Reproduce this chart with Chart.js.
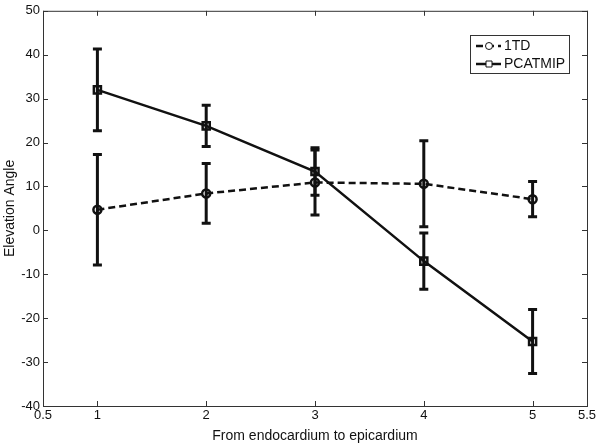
<!DOCTYPE html>
<html>
<head>
<meta charset="utf-8">
<script src="https://cdn.jsdelivr.net/npm/chart.js@4/dist/chart.umd.min.js"></script>
<style>
  body { margin: 0; background: #fff; }
  canvas { display: block; }
</style>
</head>
<body>
<canvas id="chart" width="600" height="445"></canvas>
<script>
// data
const layers = [1, 2, 3, 4, 5];
const tdMean = [4.7, 8.4, 10.9, 10.6, 7.1];
const tdErr = [12.6, 6.8, 7.4, 9.8, 4.0];
const pcaMean = [32.0, 23.8, 13.4, -7.0, -25.3];
const pcaErr = [9.3, 4.7, 5.4, 6.4, 7.3];
const xTicks = [0.5, 1, 2, 3, 4, 5, 5.5];
const yTicks = [-40, -30, -20, -10, 0, 10, 20, 30, 40, 50];

const ink = '#111';
const font = 'Liberation Sans, Arial, sans-serif';

// vertical error bars with caps
const errorBars = {
  id: 'errorBars',
  afterDatasetsDraw(chart) {
    const { ctx, scales: { x, y } } = chart;
    ctx.save();
    ctx.strokeStyle = ink;
    ctx.lineWidth = 3;
    chart.data.datasets.forEach(ds => {
      ds.data.forEach((p, i) => {
        const px = x.getPixelForValue(p.x);
        const top = y.getPixelForValue(p.y + ds.err[i]);
        const bot = y.getPixelForValue(p.y - ds.err[i]);
        ctx.beginPath();
        ctx.moveTo(px, top); ctx.lineTo(px, bot);
        ctx.moveTo(px - 4.5, top); ctx.lineTo(px + 4.5, top);
        ctx.moveTo(px - 4.5, bot); ctx.lineTo(px + 4.5, bot);
        ctx.stroke();
      });
    });
    ctx.restore();
  }
};

// matlab style box with inward ticks + legend
const frame = {
  id: 'frame',
  afterDraw(chart) {
    const { ctx, chartArea: a, scales: { x, y } } = chart;
    ctx.save();
    ctx.strokeStyle = '#333';
    ctx.lineWidth = 1;
    ctx.strokeRect(a.left + 0.5, a.top + 0.5, a.right - a.left, a.bottom - a.top);
    ctx.beginPath();
    xTicks.forEach(v => {
      const px = Math.round(x.getPixelForValue(v)) + 0.5;
      ctx.moveTo(px, a.bottom); ctx.lineTo(px, a.bottom - 5);
      ctx.moveTo(px, a.top); ctx.lineTo(px, a.top + 5);
    });
    yTicks.forEach(v => {
      const py = Math.round(y.getPixelForValue(v)) + 0.5;
      ctx.moveTo(a.left, py); ctx.lineTo(a.left + 5, py);
      ctx.moveTo(a.right, py); ctx.lineTo(a.right - 5, py);
    });
    ctx.stroke();

    // legend
    const lx = 470, ly = 35, lw = 99, lh = 38;
    ctx.fillStyle = '#fff';
    ctx.fillRect(lx, ly, lw, lh);
    ctx.strokeStyle = '#333';
    ctx.strokeRect(lx + 0.5, ly + 0.5, lw, lh);
    ctx.font = '14px ' + font;
    ctx.textBaseline = 'middle';
    ctx.fillStyle = ink;
    chart.data.datasets.forEach((ds, i) => {
      const ry = ly + 11 + i * 18;
      ctx.strokeStyle = ink;
      ctx.lineWidth = 2.5;
      ctx.setLineDash(ds.borderDash || []);
      ctx.beginPath();
      ctx.moveTo(lx + 6, ry); ctx.lineTo(lx + 31, ry);
      ctx.stroke();
      ctx.setLineDash([]);
      ctx.lineWidth = 1;
      ctx.beginPath();
      if (ds.pointStyle === 'rect') ctx.rect(lx + 16, ry - 3, 6, 6);
      else ctx.arc(lx + 19, ry, 3.5, 0, Math.PI * 2);
      ctx.fillStyle = '#fff';
      ctx.fill();
      ctx.stroke();
      ctx.fillStyle = ink;
      ctx.fillText(ds.label, lx + 34, ry);
    });
    ctx.restore();
  }
};

new Chart(document.getElementById('chart'), {
  type: 'line',
  data: {
    datasets: [{
      label: '1TD',
      data: layers.map((v, i) => ({ x: v, y: tdMean[i] })),
      err: tdErr,
      borderColor: ink,
      borderWidth: 2.5,
      borderDash: [7, 4],
      pointStyle: 'circle',
      pointRadius: 4,
      pointBorderWidth: 2.5,
      pointBorderColor: ink,
      pointBackgroundColor: 'rgba(0,0,0,0)'
    }, {
      label: 'PCATMIP',
      data: layers.map((v, i) => ({ x: v, y: pcaMean[i] })),
      err: pcaErr,
      borderColor: ink,
      borderWidth: 2.5,
      pointStyle: 'rect',
      pointRadius: 5,
      pointBorderWidth: 2.5,
      pointBorderColor: ink,
      pointBackgroundColor: 'rgba(0,0,0,0)'
    }]
  },
  options: {
    responsive: false,
    animation: false,
    layout: { padding: { top: 8, right: 13, left: 0, bottom: 0 } },
    plugins: { legend: { display: false }, tooltip: { enabled: false } },
    scales: {
      x: {
        type: 'linear',
        min: 0.5,
        max: 5.5,
        afterBuildTicks: s => { s.ticks = xTicks.map(v => ({ value: v })); },
        afterFit: s => { s.height = 39; },
        grid: { display: false, drawTicks: false },
        border: { display: false },
        ticks: { autoSkip: false, maxRotation: 0, padding: 2, color: ink, font: { family: font, size: 13 }, callback: v => String(v) },
        title: { display: true, text: 'From endocardium to epicardium', color: ink, font: { family: font, size: 14 }, padding: { top: 3, bottom: 0 } }
      },
      y: {
        min: -40,
        max: 50,
        afterBuildTicks: s => { s.ticks = yTicks.map(v => ({ value: v })); },
        afterFit: s => { s.width = 43; },
        grid: { display: false, drawTicks: false },
        border: { display: false },
        ticks: { autoSkip: false, padding: 3, color: ink, font: { family: font, size: 13 }, callback: v => String(v) },
        title: { display: true, text: 'Elevation Angle', color: ink, font: { family: font, size: 14 }, padding: { top: 2, bottom: 0 } }
      }
    }
  },
  plugins: [errorBars, frame]
});
</script>
</body>
</html>
